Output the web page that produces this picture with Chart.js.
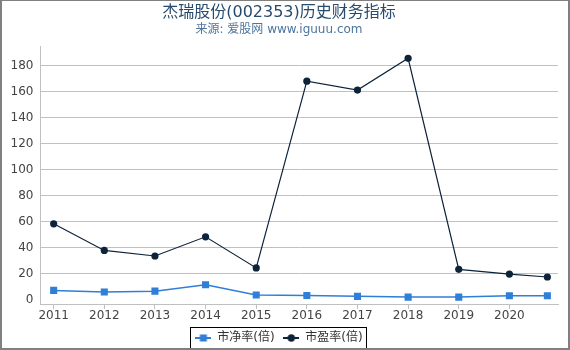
<!DOCTYPE html>
<html>
<head>
<meta charset="utf-8">
<script src="https://cdn.jsdelivr.net/npm/chart.js@4/dist/chart.umd.min.js"></script>
<style>
  body { margin: 0; background: #fff; }
</style>
</head>
<body>
<canvas id="chart" width="570" height="350"></canvas>
<script>
// ======================= DATA ==========================
const dates = [2011, 2012, 2013, 2014, 2015, 2016, 2017, 2018, 2019, 2020, 2020.75];
const yearTicks = ['2011', '2012', '2013', '2014', '2015', '2016', '2017', '2018', '2019', '2020'];
const pbValues = [7.0, 5.7, 6.4, 11.3, 3.4, 3.1, 2.4, 1.8, 1.8, 2.8, 2.8];
const peValues = [58.3, 37.8, 33.5, 48.3, 24.3, 168.3, 161.4, 185.9, 23.2, 19.6, 17.3];
const seriesNames = ['市净率(倍)', '市盈率(倍)'];

const FONT = "'DejaVu Sans', 'Noto Sans CJK SC', sans-serif";
const BLUE = '#2f7ed8';
const NAVY = '#0d233a';

// ======================= LEGEND SYMBOLS ==================
function legendSymbol(color, shape) {
    const c = document.createElement('canvas');
    c.width = 16; c.height = 8;
    const g = c.getContext('2d');
    g.strokeStyle = color;
    g.lineWidth = 2;
    g.beginPath(); g.moveTo(0, 4); g.lineTo(16, 4); g.stroke();
    g.fillStyle = color;
    if (shape === 'rect') {
        g.fillRect(4.5, 0.5, 7, 7);
    } else {
        g.beginPath(); g.arc(8, 4, 3.7, 0, Math.PI * 2); g.fill();
    }
    return c;
}
const symbols = [legendSymbol(BLUE, 'rect'), legendSymbol(NAVY, 'circle')];

// ======================= PLUGINS ========================
const framePlugin = {
    id: 'frame',
    afterDraw(chart) {
        const ctx = chart.ctx;
        const lg = chart.legend;
        // box round legend
        if (lg && lg.legendHitBoxes.length) {
            const hb = lg.legendHitBoxes;
            const left = Math.min(...hb.map(h => h.left)) - 5;
            const right = Math.max(...hb.map(h => h.left + h.width)) + 4;
            const top = hb[0].top - 5;
            const bottom = hb[0].top + hb[0].height + 5;
            ctx.save();
            ctx.strokeStyle = '#000';
            ctx.lineWidth = 1;
            ctx.strokeRect(Math.round(left) + 0.5, Math.round(top) + 0.5,
                Math.round(right - left), Math.round(bottom - top));
            ctx.restore();
        }
        // outer frame
        ctx.save();
        ctx.fillStyle = '#808080';
        ctx.fillRect(0, 0, 570, 1);
        ctx.fillRect(0, 0, 2, 350);
        ctx.fillRect(568, 0, 2, 350);
        ctx.fillRect(0, 348, 570, 2);
        ctx.restore();
    }
};

// ======================= CHART ==========================
new Chart(document.getElementById('chart'), {
    type: 'line',
    data: {
        datasets: [{
            label: seriesNames[0],
            data: dates.map((d, i) => ({ x: d, y: pbValues[i] })),
            borderColor: BLUE,
            backgroundColor: BLUE,
            borderWidth: 1.5,
            pointStyle: 'rect',
            pointRadius: 5,
            pointBorderWidth: 0,
            tension: 0
        }, {
            label: seriesNames[1],
            data: dates.map((d, i) => ({ x: d, y: peValues[i] })),
            borderColor: NAVY,
            backgroundColor: NAVY,
            borderWidth: 1.2,
            pointStyle: 'circle',
            pointRadius: 3.6,
            pointBorderWidth: 0,
            tension: 0
        }]
    },
    options: {
        responsive: false,
        animation: false,
        layout: { padding: { left: 0, right: 12, top: 0, bottom: -4 } },
        scales: {
            x: {
                type: 'linear',
                min: 2010.74,
                max: 2020.96,
                afterBuildTicks: s => { s.ticks = yearTicks.map(t => ({ value: Number(t) })); },
                ticks: {
                    callback: (v) => String(v),
                    font: { family: FONT, size: 12 },
                    color: '#444',
                    padding: 0,
                    maxRotation: 0,
                    autoSkip: false
                },
                grid: { drawOnChartArea: false, drawTicks: true, tickLength: 5, color: '#c0c0c0' },
                border: { color: '#c0c0c0', width: 1 }
            },
            y: {
                min: -3.5,
                max: 195,
                afterFit: s => { s.width = 40.5; },
                ticks: {
                    stepSize: 20,
                    includeBounds: false,
                    callback: (v) => String(v),
                    font: { family: FONT, size: 12 },
                    color: '#444',
                    padding: 7
                },
                grid: {
                    drawTicks: false,
                    color: ctx => (ctx.tick && ctx.tick.value === 0) ? 'rgba(0,0,0,0)' : '#c0c0c0'
                },
                border: { color: '#c0c0c0', width: 1 }
            }
        },
        plugins: {
            title: {
                display: true,
                text: '杰瑞股份(002353)历史财务指标',
                color: '#274b6d',
                font: { family: FONT, size: 16, weight: 'normal' },
                padding: { top: 3, bottom: 0 }
            },
            subtitle: {
                display: true,
                text: '来源: 爱股网 www.iguuu.com',
                color: '#4d759e',
                font: { family: FONT, size: 12, weight: 'normal' },
                padding: { top: 0, bottom: 9.9 }
            },
            legend: {
                position: 'bottom',
                labels: {
                    usePointStyle: true,
                    pointStyleWidth: 16,
                    padding: 8.6,
                    color: '#333',
                    font: { family: FONT, size: 12 },
                    generateLabels: chart => {
                        const items = Chart.defaults.plugins.legend.labels.generateLabels(chart);
                        items.forEach((it, i) => { it.pointStyle = symbols[i]; });
                        return items;
                    }
                }
            },
            tooltip: { enabled: false }
        }
    },
    plugins: [framePlugin]
});
</script>
</body>
</html>
